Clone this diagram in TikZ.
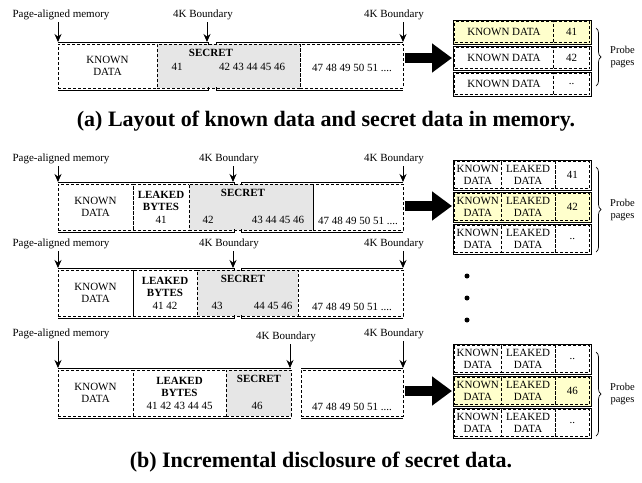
\documentclass[tikz,border=0pt]{standalone}
\usepackage{fontspec}
\setmainfont{Liberation Serif}
\usetikzlibrary{arrows.meta,positioning,decorations.pathreplacing}
\definecolor{secgray}{HTML}{E6E6E6}
\definecolor{hityellow}{HTML}{FFFFCC}

\begin{document}
\begin{tikzpicture}[x=1pt,y=-1pt,font=\fontsize{11}{12.5}\selectfont,
  cell/.style={draw,dash pattern=on 3pt off 2pt,line width=.7pt,inner sep=0pt,outer sep=0pt,
    anchor=north west,minimum height=44pt,align=center},
  secret/.style={cell,fill=secgray},
  pcell/.style={cell,minimum height=#1},
  prow/.style={draw,line width=.9pt,inner sep=0pt,outer sep=0pt,anchor=north west,minimum width=138pt},
  bold/.style={font=\fontsize{11}{12.5}\selectfont\bfseries,inner sep=0pt},
  num/.style={inner sep=0pt,align=center},
  lbl/.style={inner sep=0pt},
  ptr/.style={-{Stealth[length=8pt,width=7pt]},line width=.9pt,shorten <=2pt},
  pageline/.style={line width=.9pt},
  bigarrow/.style={line width=10pt,-{Triangle[length=20pt,width=28pt]}},
  probebrace/.style={decorate,decoration={brace,amplitude=5pt},line width=.7pt},
  pp/.style={inner sep=0pt,align=center,font=\fontsize{10.5}{12}\selectfont},
  capt/.style={inner sep=0pt,font=\fontsize{22}{24}\selectfont\bfseries}]
\useasboundingbox (0,0) rectangle (642,482);

% (a) layout in memory
\node[lbl] (a-pm) at (61,15) {Page-aligned memory};
\node[lbl] (a-k1) at (203,15) {4K Boundary};
\node[lbl] (a-k2) at (394,15) {4K Boundary};
\coordinate (a-p0) at (58,42);
\coordinate (a-p1) at (207,42);
\coordinate (a-p2) at (403,42);
\draw[ptr] (a-pm.south -| a-p0) -- (a-p0);
\draw[ptr] (a-k1.south -| a-p1) -- (a-p1);
\draw[ptr] (a-k2.south -| a-p2) -- (a-p2);
\node[cell,minimum width=99pt] (a-kn) at (58,44) {KNOWN\\DATA};
\node[secret,minimum width=143pt,right=0pt of a-kn] (a-sec) {};
\node[cell,minimum width=103pt,right=0pt of a-sec] (a-rest) {};
\node[bold] (a-st) at (211,53) {SECRET};
\node[num] (a-n41) at (177,67) {41};
\node[num] (a-n42) at (252,67) {42 43 44 45 46};
\node[num] (a-n47) at (352,68) {47 48 49 50 51 ....};
\draw[pageline] (58,42) -- (208,42) -- (208,45);
\draw[pageline] (216,45) -- (216,42) -- (403,42);
\draw[pageline] (58,90) -- (208,90) -- (208,87);
\draw[pageline] (216,87) -- (216,90) -- (403,90);
\coordinate (a-ar0) at (405,58);
\coordinate (a-ar1) at (452,58);
\draw[bigarrow] (a-ar0) -- (a-ar1);
\node[prow,minimum height=24pt,fill=hityellow] (a-r1) at (453,20) {};
\node[prow,minimum height=24pt,below=2pt of a-r1] (a-r2) {};
\node[prow,minimum height=24pt,below=2pt of a-r2] (a-r3) {};
\node[pcell=21pt,minimum width=99pt] (a-c1) at ([shift={(1.5,1.5)}]a-r1.north west) {KNOWN DATA};
\node[pcell=21pt,minimum width=36pt,right=0pt of a-c1] (a-v1) {41};
\node[pcell=21pt,minimum width=99pt] (a-c2) at ([shift={(1.5,1.5)}]a-r2.north west) {KNOWN DATA};
\node[pcell=21pt,minimum width=36pt,right=0pt of a-c2] (a-v2) {42};
\node[pcell=21pt,minimum width=99pt] (a-c3) at ([shift={(1.5,1.5)}]a-r3.north west) {KNOWN DATA};
\node[pcell=21pt,minimum width=36pt,right=0pt of a-c3] (a-v3) {..};
\coordinate (a-bt) at (596,28);
\coordinate (a-bb) at (596,86);
\coordinate (a-bm) at (605,57);
\draw[probebrace] (a-bt) -- (a-bb);
\node[pp,right=5pt of a-bm] (a-pp) {Probe\\pages};
\node[capt] (a-cap) at (326,121) {(a) Layout of known data and secret data in memory.};

% (b) first step
\node[lbl] (b1-pm) at (61,159) {Page-aligned memory};
\node[lbl] (b1-k1) at (229,159) {4K Boundary};
\node[lbl] (b1-k2) at (394,159) {4K Boundary};
\coordinate (b1-p0) at (58,182);
\coordinate (b1-p1) at (233,182);
\coordinate (b1-p2) at (403,182);
\draw[ptr] (b1-pm.south -| b1-p0) -- (b1-p0);
\draw[ptr] (b1-k1.south -| b1-p1) -- (b1-p1);
\draw[ptr] (b1-k2.south -| b1-p2) -- (b1-p2);
\node[cell,minimum height=46pt,minimum width=75pt] (b1-kn) at (58,184) {KNOWN\\DATA};
\node[cell,minimum height=46pt,minimum width=56pt,right=0pt of b1-kn] (b1-lk) {};
\node[secret,minimum height=46pt,minimum width=124pt,right=0pt of b1-lk] (b1-sec) {};
\node[cell,minimum height=46pt,minimum width=90pt,right=0pt of b1-sec] (b1-rest) {};
\node[num] (b1-lt) at (b1-lk) {\textbf{LEAKED}\\\textbf{BYTES}\\41};
\node[bold] (b1-st) at (243,193) {SECRET};
\node[num] (b1-n42) at (208,220) {42};
\node[num] (b1-n43) at (278,220) {43 44 45 46};
\node[num] (b1-n47) at (358,221) {47 48 49 50 51 ....};
\draw[pageline] (58,182) -- (234,182) -- (234,185);
\draw[pageline] (241,185) -- (241,182) -- (403,182);
\draw[pageline] (58,232) -- (234,232) -- (234,229);
\draw[pageline] (241,229) -- (241,232) -- (403,232);
\coordinate (b1-ar0) at (405,206);
\coordinate (b1-ar1) at (452,206);
\draw[bigarrow] (b1-ar0) -- (b1-ar1);
\node[prow,minimum height=30pt] (b1-r1) at (453,160) {};
\node[prow,minimum height=30pt,fill=hityellow,below=2pt of b1-r1] (b1-r2) {};
\node[prow,minimum height=30pt,below=2pt of b1-r2] (b1-r3) {};
\node[pcell=27pt,minimum width=46.5pt] (b1-c1) at ([shift={(1.5,1.5)}]b1-r1.north west) {KNOWN\\DATA};
\node[pcell=27pt,minimum width=54pt,right=0pt of b1-c1] (b1-d1) {LEAKED\\DATA};
\node[pcell=27pt,minimum width=34.5pt,right=0pt of b1-d1] (b1-v1) {41};
\node[pcell=27pt,minimum width=46.5pt] (b1-c2) at ([shift={(1.5,1.5)}]b1-r2.north west) {KNOWN\\DATA};
\node[pcell=27pt,minimum width=54pt,right=0pt of b1-c2] (b1-d2) {LEAKED\\DATA};
\node[pcell=27pt,minimum width=34.5pt,right=0pt of b1-d2] (b1-v2) {42};
\node[pcell=27pt,minimum width=46.5pt] (b1-c3) at ([shift={(1.5,1.5)}]b1-r3.north west) {KNOWN\\DATA};
\node[pcell=27pt,minimum width=54pt,right=0pt of b1-c3] (b1-d3) {LEAKED\\DATA};
\node[pcell=27pt,minimum width=34.5pt,right=0pt of b1-d3] (b1-v3) {..};
\coordinate (b1-bt) at (596,167);
\coordinate (b1-bb) at (596,252);
\coordinate (b1-bm) at (605,209.5);
\draw[probebrace] (b1-bt) -- (b1-bb);
\node[pp,right=5pt of b1-bm] (b1-pp) {Probe\\pages};

% (b) second step
\node[lbl] (b2-pm) at (61,244) {Page-aligned memory};
\node[lbl] (b2-k1) at (229,244) {4K Boundary};
\node[lbl] (b2-k2) at (394,244) {4K Boundary};
\coordinate (b2-p0) at (58,268);
\coordinate (b2-p1) at (233,268);
\coordinate (b2-p2) at (403,268);
\draw[ptr] (b2-pm.south -| b2-p0) -- (b2-p0);
\draw[ptr] (b2-k1.south -| b2-p1) -- (b2-p1);
\draw[ptr] (b2-k2.south -| b2-p2) -- (b2-p2);
\node[cell,minimum height=46pt,minimum width=75pt] (b2-kn) at (58,270) {KNOWN\\DATA};
\node[cell,minimum height=46pt,minimum width=64pt,right=0pt of b2-kn] (b2-lk) {};
\node[secret,minimum height=46pt,minimum width=101pt,right=0pt of b2-lk] (b2-sec) {};
\node[cell,minimum height=46pt,minimum width=105pt,right=0pt of b2-sec] (b2-rest) {};
\node[num] (b2-lt) at (b2-lk) {\textbf{LEAKED}\\\textbf{BYTES}\\41 42};
\node[bold] (b2-st) at (243,279) {SECRET};
\node[num] (b2-n43) at (217,306) {43};
\node[num] (b2-n44) at (273,306) {44 45 46};
\node[num] (b2-n47) at (352,307) {47 48 49 50 51 ....};
\draw[pageline] (58,268) -- (234,268) -- (234,271);
\draw[pageline] (241,271) -- (241,268) -- (403,268);
\draw[pageline] (58,318) -- (234,318) -- (234,315);
\draw[pageline] (241,315) -- (241,318) -- (403,318);
\foreach \d in {276,298,320}
  \fill (467,\d) circle (2.5pt);

% (b) last step
\node[lbl] (b3-pm) at (61,334) {Page-aligned memory};
\node[lbl] (b3-k1) at (286,337) {4K Boundary};
\node[lbl] (b3-k2) at (394,334) {4K Boundary};
\coordinate (b3-p0) at (58,368);
\coordinate (b3-p1) at (290,368);
\coordinate (b3-p2) at (403,368);
\draw[ptr] (b3-pm.south -| b3-p0) -- (b3-p0);
\draw[ptr] (b3-k1.south -| b3-p1) -- (b3-p1);
\draw[ptr] (b3-k2.south -| b3-p2) -- (b3-p2);
\node[cell,minimum height=46pt,minimum width=75pt] (b3-kn) at (58,370) {KNOWN\\DATA};
\node[cell,minimum height=46pt,minimum width=93pt,right=0pt of b3-kn] (b3-lk) {};
\node[secret,minimum height=46pt,minimum width=65pt,right=0pt of b3-lk] (b3-sec) {};
\node[cell,minimum height=46pt,minimum width=102pt] (b3-rest) at (301,370) {};
\node[num] (b3-lt) at (b3-lk) {\textbf{LEAKED}\\\textbf{BYTES}\\41 42 43 44 45};
\node[bold] (b3-st) at (259,379) {SECRET};
\node[num] (b3-n46) at (257,406) {46};
\node[num] (b3-n47) at (352,407) {47 48 49 50 51 ....};
\draw[pageline] (58,368) -- (291,368);
\draw[pageline] (301,368) -- (403,368);
\draw[pageline] (58,418) -- (291,418);
\draw[pageline] (301,418) -- (403,418);
\coordinate (b3-ar0) at (405,391);
\coordinate (b3-ar1) at (452,391);
\draw[bigarrow] (b3-ar0) -- (b3-ar1);
\node[prow,minimum height=30pt] (b3-r1) at (453,344) {};
\node[prow,minimum height=30pt,fill=hityellow,below=2pt of b3-r1] (b3-r2) {};
\node[prow,minimum height=30pt,below=2pt of b3-r2] (b3-r3) {};
\node[pcell=27pt,minimum width=46.5pt] (b3-c1) at ([shift={(1.5,1.5)}]b3-r1.north west) {KNOWN\\DATA};
\node[pcell=27pt,minimum width=54pt,right=0pt of b3-c1] (b3-d1) {LEAKED\\DATA};
\node[pcell=27pt,minimum width=34.5pt,right=0pt of b3-d1] (b3-v1) {..};
\node[pcell=27pt,minimum width=46.5pt] (b3-c2) at ([shift={(1.5,1.5)}]b3-r2.north west) {KNOWN\\DATA};
\node[pcell=27pt,minimum width=54pt,right=0pt of b3-c2] (b3-d2) {LEAKED\\DATA};
\node[pcell=27pt,minimum width=34.5pt,right=0pt of b3-d2] (b3-v2) {46};
\node[pcell=27pt,minimum width=46.5pt] (b3-c3) at ([shift={(1.5,1.5)}]b3-r3.north west) {KNOWN\\DATA};
\node[pcell=27pt,minimum width=54pt,right=0pt of b3-c3] (b3-d3) {LEAKED\\DATA};
\node[pcell=27pt,minimum width=34.5pt,right=0pt of b3-d3] (b3-v3) {..};
\coordinate (b3-bt) at (596,352);
\coordinate (b3-bb) at (596,436);
\coordinate (b3-bm) at (605,394);
\draw[probebrace] (b3-bt) -- (b3-bb);
\node[pp,right=5pt of b3-bm] (b3-pp) {Probe\\pages};
\node[capt] (b-cap) at (321,462) {(b) Incremental disclosure of secret data.};
\end{tikzpicture}
\end{document}
